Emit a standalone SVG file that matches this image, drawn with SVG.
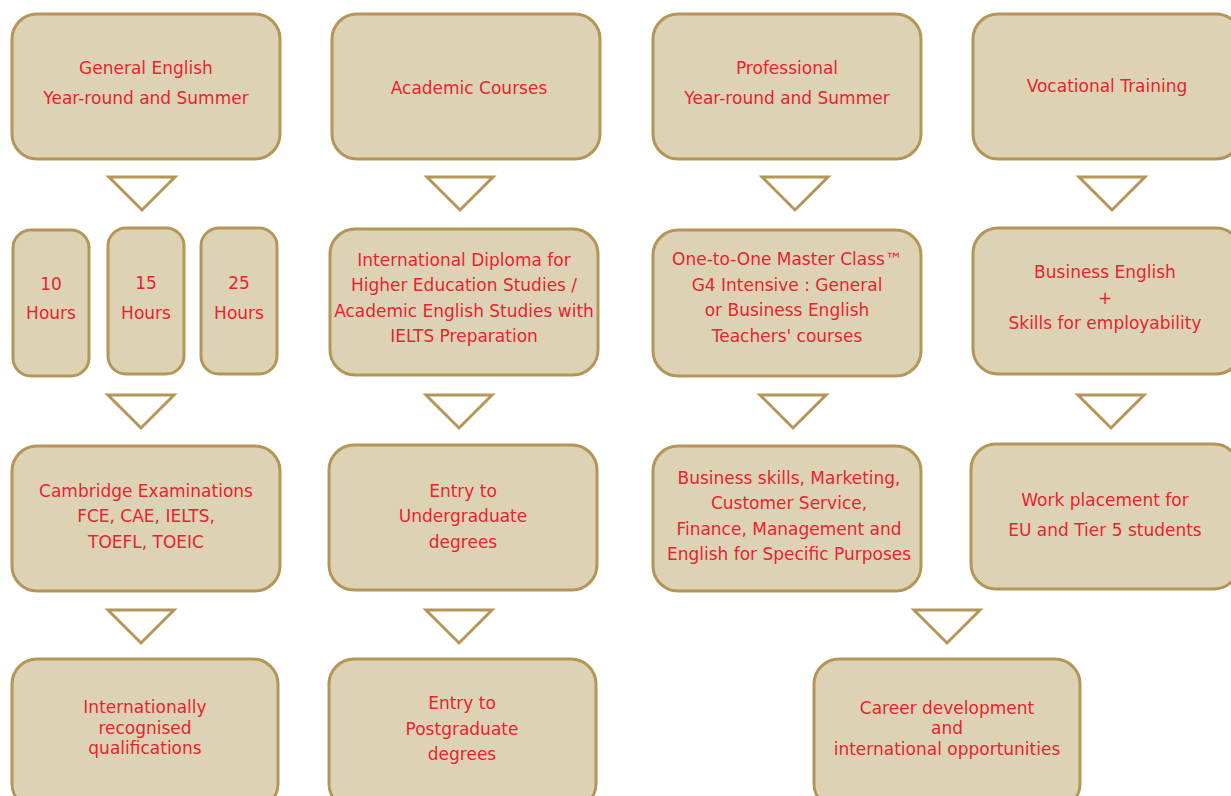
<svg xmlns="http://www.w3.org/2000/svg" width="1231" height="796" viewBox="0 0 1231 796">
<style>
.box{fill:#ddd3b4;stroke:#b49658;stroke-width:3}
.tri{fill:#fff;stroke:#b49658;stroke-width:3;stroke-linejoin:miter}
text{font-family:"DejaVu Sans","Verdana",sans-serif;font-size:17px;fill:#e8232f;text-anchor:middle}
</style>
<rect width="1231" height="796" fill="#fff"/>
<g id="connectors">
<polygon class="tri" points="109,177 175,177 142,210"/>
<polygon class="tri" points="427,177 493,177 460,210"/>
<polygon class="tri" points="762,177 828,177 795,210"/>
<polygon class="tri" points="1079,177 1145,177 1112,210"/>
<polygon class="tri" points="108,395 174,395 141,428"/>
<polygon class="tri" points="426,395 492,395 459,428"/>
<polygon class="tri" points="760,395 826,395 793,428"/>
<polygon class="tri" points="1078,395 1144,395 1111,428"/>
<polygon class="tri" points="108,610 174,610 141,643"/>
<polygon class="tri" points="426,610 492,610 459,643"/>
<polygon class="tri" points="914,610 980,610 947,643"/>
</g>
<g id="general-english"><rect class="box" x="12" y="14" width="268" height="145" rx="25"/><text x="146" y="74">General English</text><text x="146" y="104">Year-round and Summer</text></g>
<g id="academic-courses"><rect class="box" x="332" y="14" width="268" height="145" rx="25"/><text x="469" y="94">Academic Courses</text></g>
<g id="professional"><rect class="box" x="653" y="14" width="268" height="145" rx="25"/><text x="787" y="74">Professional</text><text x="787" y="104">Year-round and Summer</text></g>
<g id="vocational-training"><rect class="box" x="973" y="14" width="268" height="145" rx="25"/><text x="1107" y="92">Vocational Training</text></g>
<g id="hours-10"><rect class="box" x="13" y="230" width="76" height="146" rx="18"/><text x="51" y="290">10</text><text x="51" y="319">Hours</text></g>
<g id="hours-15"><rect class="box" x="108" y="228" width="76" height="146" rx="18"/><text x="146" y="289">15</text><text x="146" y="319">Hours</text></g>
<g id="hours-25"><rect class="box" x="201" y="228" width="76" height="146" rx="18"/><text x="239" y="289">25</text><text x="239" y="319">Hours</text></g>
<g id="intl-diploma"><rect class="box" x="330" y="229" width="268" height="146" rx="25"/><text x="464" y="266">International Diploma for</text><text x="464" y="291">Higher Education Studies /</text><text x="464" y="317">Academic English Studies with</text><text x="464" y="342">IELTS Preparation</text></g>
<g id="one-to-one"><rect class="box" x="653" y="230" width="268" height="146" rx="25"/><text x="787" y="265">One-to-One Master Class™</text><text x="787" y="291">G4 Intensive : General</text><text x="787" y="316">or Business English</text><text x="787" y="342">Teachers' courses</text></g>
<g id="business-english"><rect class="box" x="973" y="228" width="268" height="146" rx="25"/><text x="1105" y="278">Business English</text><text x="1105" y="304">+</text><text x="1105" y="329">Skills for employability</text></g>
<g id="cambridge"><rect class="box" x="12" y="446" width="268" height="145" rx="25"/><text x="146" y="497">Cambridge Examinations</text><text x="146" y="522">FCE, CAE, IELTS,</text><text x="146" y="548">TOEFL, TOEIC</text></g>
<g id="undergraduate"><rect class="box" x="329" y="445" width="268" height="145" rx="25"/><text x="463" y="497">Entry to</text><text x="463" y="522">Undergraduate</text><text x="463" y="548">degrees</text></g>
<g id="business-skills"><rect class="box" x="653" y="446" width="268" height="145" rx="25"/><text x="789" y="484">Business skills, Marketing,</text><text x="789" y="509">Customer Service,</text><text x="789" y="535">Finance, Management and</text><text x="789" y="560">English for Specific Purposes</text></g>
<g id="work-placement"><rect class="box" x="971" y="444" width="268" height="145" rx="25"/><text x="1105" y="506">Work placement for</text><text x="1105" y="536">EU and Tier 5 students</text></g>
<g id="qualifications"><rect class="box" x="12" y="659" width="266" height="150" rx="25"/><text x="145" y="713">Internationally</text><text x="145" y="734">recognised</text><text x="145" y="754">qualifications</text></g>
<g id="postgraduate"><rect class="box" x="329" y="659" width="267" height="150" rx="25"/><text x="462" y="709">Entry to</text><text x="462" y="735">Postgraduate</text><text x="462" y="760">degrees</text></g>
<g id="career"><rect class="box" x="814" y="659" width="266" height="150" rx="25"/><text x="947" y="714">Career development</text><text x="947" y="734">and</text><text x="947" y="755">international opportunities</text></g>
</svg>
